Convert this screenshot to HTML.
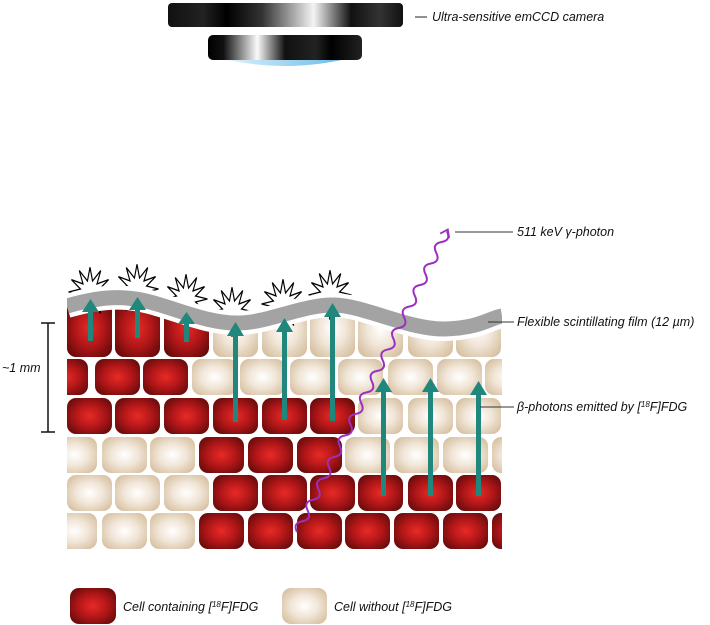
<!DOCTYPE html>
<html><head><meta charset="utf-8"><style>
html,body{margin:0;padding:0;background:#fff;}
svg{display:block;}
text{font-family:"Liberation Sans",sans-serif;font-style:italic;font-size:12.5px;fill:#111;}
</style></head><body>
<svg width="710" height="625" viewBox="0 0 710 625" xmlns="http://www.w3.org/2000/svg">
<defs>
<radialGradient id="r" cx="50%" cy="50%" r="60%"><stop offset="0" stop-color="#e82a26"/><stop offset="0.55" stop-color="#b01618"/><stop offset="1" stop-color="#6a0c0c"/></radialGradient>
<radialGradient id="b" cx="50%" cy="50%" r="60%"><stop offset="0" stop-color="#ffffff"/><stop offset="0.5" stop-color="#f1e6d8"/><stop offset="1" stop-color="#d8c2a4"/></radialGradient>
<linearGradient id="c1" x1="0" x2="1"><stop offset="0" stop-color="#111"/><stop offset="0.15" stop-color="#222"/><stop offset="0.25" stop-color="#000"/><stop offset="0.4" stop-color="#333"/><stop offset="0.62" stop-color="#f4f4f4"/><stop offset="0.78" stop-color="#111"/><stop offset="0.9" stop-color="#333"/><stop offset="1" stop-color="#111"/></linearGradient>
<linearGradient id="c2" x1="0" x2="1"><stop offset="0" stop-color="#000"/><stop offset="0.1" stop-color="#111"/><stop offset="0.32" stop-color="#fafafa"/><stop offset="0.5" stop-color="#111"/><stop offset="0.7" stop-color="#222"/><stop offset="0.8" stop-color="#000"/><stop offset="1" stop-color="#222"/></linearGradient>
<linearGradient id="glow" x1="0" x2="1"><stop offset="0" stop-color="#eef8fd"/><stop offset="1" stop-color="#5ab4e4"/></linearGradient>
<g id="R"><rect width="45" height="36" rx="9" fill="url(#r)"/></g>
<g id="B"><rect width="45" height="36" rx="9" fill="url(#b)"/></g>
<polygon id="star" points="13,0 5.8,1.55 11.26,6.5 4.24,4.24 6.5,11.26 1.55,5.8 0,13 -1.55,5.8 -6.5,11.26 -4.24,4.24 -11.26,6.5 -5.8,1.55 -13,0 -5.8,-1.55 -11.26,-6.5 -4.24,-4.24 -6.5,-11.26 -1.55,-5.8 0,-13 1.55,-5.8 6.5,-11.26 4.24,-4.24 11.26,-6.5 5.8,-1.55" fill="#fff" stroke="#000" stroke-width="0.7"/>
<clipPath id="tis"><rect x="67" y="250" width="435" height="300"/></clipPath>
</defs>

<!-- camera -->
<path d="M212 56 Q285 76 358 56 Z" fill="url(#glow)"/>
<rect x="168" y="3" width="235" height="24" rx="4" fill="url(#c1)"/>
<rect x="208" y="35" width="154" height="25" rx="5" fill="url(#c2)"/>
<line x1="415" y1="17" x2="427" y2="17" stroke="#222" stroke-width="1"/>
<text x="432" y="21">Ultra-sensitive emCCD camera</text>

<g clip-path="url(#tis)">
<rect x="67" y="300" width="45" height="57" rx="9" fill="url(#r)"/>
<rect x="115" y="300" width="45" height="57" rx="9" fill="url(#r)"/>
<rect x="164" y="300" width="45" height="57" rx="9" fill="url(#r)"/>
<rect x="213" y="300" width="45" height="57" rx="9" fill="url(#b)"/>
<rect x="262" y="300" width="45" height="57" rx="9" fill="url(#b)"/>
<rect x="310" y="300" width="45" height="57" rx="9" fill="url(#b)"/>
<rect x="358" y="300" width="45" height="57" rx="9" fill="url(#b)"/>
<rect x="408" y="300" width="45" height="57" rx="9" fill="url(#b)"/>
<rect x="456" y="300" width="45" height="57" rx="9" fill="url(#b)"/>
<use href="#R" x="43" y="359"/><use href="#R" x="95" y="359"/><use href="#R" x="143" y="359"/>
<use href="#B" x="192" y="359"/><use href="#B" x="240" y="359"/><use href="#B" x="290" y="359"/><use href="#B" x="338" y="359"/><use href="#B" x="388" y="359"/><use href="#B" x="437" y="359"/><use href="#B" x="485" y="359"/>
<use href="#R" x="67" y="398"/><use href="#R" x="115" y="398"/><use href="#R" x="164" y="398"/><use href="#R" x="213" y="398"/><use href="#R" x="262" y="398"/><use href="#R" x="310" y="398"/>
<use href="#B" x="358" y="398"/><use href="#B" x="408" y="398"/><use href="#B" x="456" y="398"/>
<use href="#B" x="52" y="437"/><use href="#B" x="102" y="437"/><use href="#B" x="150" y="437"/>
<use href="#R" x="199" y="437"/><use href="#R" x="248" y="437"/><use href="#R" x="297" y="437"/>
<use href="#B" x="345" y="437"/><use href="#B" x="394" y="437"/><use href="#B" x="443" y="437"/><use href="#B" x="492" y="437"/>
<use href="#B" x="67" y="475"/><use href="#B" x="115" y="475"/><use href="#B" x="164" y="475"/>
<use href="#R" x="213" y="475"/><use href="#R" x="262" y="475"/><use href="#R" x="310" y="475"/><use href="#R" x="358" y="475"/><use href="#R" x="408" y="475"/><use href="#R" x="456" y="475"/>
<use href="#B" x="52" y="513"/><use href="#B" x="102" y="513"/><use href="#B" x="150" y="513"/>
<use href="#R" x="199" y="513"/><use href="#R" x="248" y="513"/><use href="#R" x="297" y="513"/><use href="#R" x="345" y="513"/><use href="#R" x="394" y="513"/><use href="#R" x="443" y="513"/><use href="#R" x="492" y="513"/>
</g>

<path d="M67 306 C95 298,120 294,150 302 S210 324,240 323 S305 304,335 305 S410 330,445 329 S490 318,502 316 L502 250 L67 250 Z" fill="#fff"/>
<g transform="translate(90,292) scale(1.65,1.9)"><use href="#star"/></g>
<g transform="translate(137,289) scale(1.65,1.9)"><use href="#star"/></g>
<g transform="translate(186,299) scale(1.65,1.9)"><use href="#star"/></g>
<g transform="translate(232,312) scale(1.65,1.9)"><use href="#star"/></g>
<g transform="translate(283,304) scale(1.65,1.9)"><use href="#star"/></g>
<g transform="translate(330,295) scale(1.65,1.9)"><use href="#star"/></g>
<path d="M67 306 C95 298,120 294,150 302 S210 324,240 323 S305 304,335 305 S410 330,445 329 S490 318,502 316" fill="none" stroke="#fff" stroke-width="24"/>
<path d="M67 306 C95 298,120 294,150 302 S210 324,240 323 S305 304,335 305 S410 330,445 329 S490 318,502 316" fill="none" stroke="#a3a3a3" stroke-width="15"/>
<rect x="58" y="285" width="9" height="45" fill="#fff"/>
<rect x="502" y="290" width="10" height="50" fill="#fff"/>

<g fill="#1f877c">
<rect x="88" y="310" width="5" height="31"/><polygon points="90.5,299 82,312 99,312"/>
<rect x="135" y="308" width="5" height="30"/><polygon points="137.5,297 129,310 146,310"/>
<rect x="184" y="322" width="5" height="20"/><polygon points="186.5,312 178,324 195,324"/>
<rect x="233" y="334" width="5" height="88"/><polygon points="235.5,322 227,336 244,336"/>
<rect x="282" y="330" width="5" height="90"/><polygon points="284.5,318 276,332 293,332"/>
<rect x="330" y="315" width="5" height="106"/><polygon points="332.5,303 324,317 341,317"/>
<rect x="381" y="390" width="5" height="106"/><polygon points="383.5,378 375,392 392,392"/>
<rect x="428" y="390" width="5" height="106"/><polygon points="430.5,378 422,392 439,392"/>
<rect x="476" y="393" width="5" height="103"/><polygon points="478.5,381 470,395 487,395"/>
</g>

<g transform="translate(297,532) rotate(-63.5)">
<path d="M0 0 q6 -8 12 0 t12 0 t12 0 t12 0 t12 0 t12 0 t12 0 t12 0 t12 0 t12 0 t12 0 t12 0 t12 0 t12 0 t12 0 t12 0 t12 0 t12 0 t12 0 t12 0 t12 0 t12 0 t12 0 t12 0 t12 0 t12 0 t12 0 t12 0" fill="none" stroke="#9b2fbf" stroke-width="2"/>
<path d="M331 -5 L338 0 L331 5" fill="none" stroke="#9b2fbf" stroke-width="1.8"/>
</g>

<line x1="455" y1="232" x2="513" y2="232" stroke="#333" stroke-width="1"/>
<text x="517" y="236">511 keV γ-photon</text>
<line x1="488" y1="322" x2="514" y2="322" stroke="#333" stroke-width="1"/>
<text x="517" y="326">Flexible scintillating film (12 µm)</text>
<line x1="480" y1="407" x2="514" y2="407" stroke="#333" stroke-width="1"/>
<text x="517" y="411">β-photons emitted by [<tspan font-size="8" dy="-4">18</tspan><tspan dy="4">F]FDG</tspan></text>

<g stroke="#111" stroke-width="1.5">
<line x1="48" y1="323" x2="48" y2="432"/><line x1="41" y1="323" x2="55" y2="323"/><line x1="41" y1="432" x2="55" y2="432"/>
</g>
<text x="2" y="372">~1 mm</text>

<rect x="70" y="588" width="46" height="36" rx="9" fill="url(#r)"/>
<text x="123" y="611">Cell containing [<tspan font-size="8" dy="-4">18</tspan><tspan dy="4">F]FDG</tspan></text>
<rect x="282" y="588" width="45" height="36" rx="9" fill="url(#b)"/>
<text x="334" y="611">Cell without [<tspan font-size="8" dy="-4">18</tspan><tspan dy="4">F]FDG</tspan></text>
</svg>
</body></html>
